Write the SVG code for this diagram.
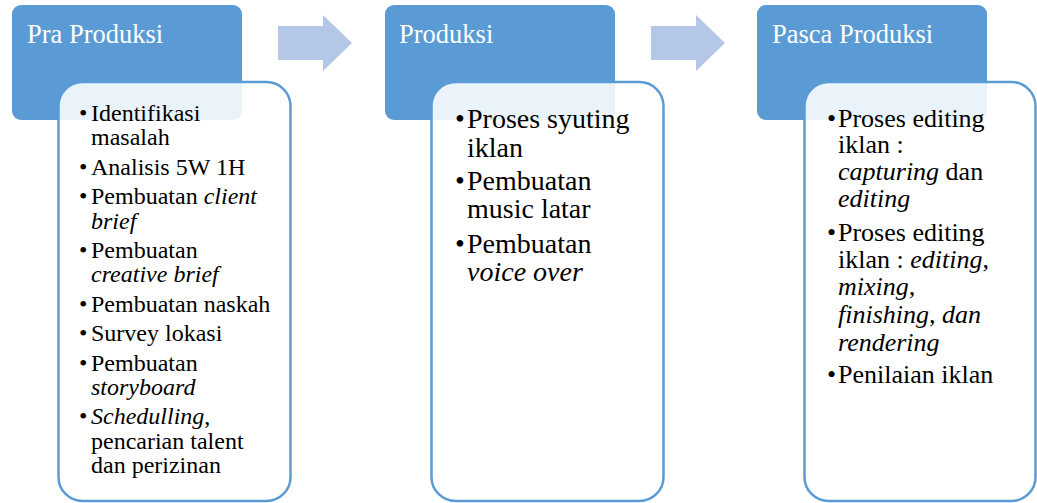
<svg xmlns="http://www.w3.org/2000/svg" width="1037" height="503" viewBox="0 0 1037 503">
<style>
text, tspan{font-family:"Liberation Serif","Times New Roman",serif}
.hdr{fill:#5B9BD5}
.card{fill:#FFFFFF;fill-opacity:0.88;stroke:#5B9BD5;stroke-width:2.5}
.arrow{fill:#B4C7E7}
.title{font-size:26.5px;fill:#FFFFFF}
.t text{fill:#000000}
.b1 text{font-size:24px}
.b2 text{font-size:28px}
.b3 text{font-size:26px}
.i{font-style:italic}
</style>
<rect width="1037" height="503" fill="#FFFFFF"/>
<g id="connectors">
<polygon class="arrow" points="278,26 323,26 323,15 352,43 323,71 323,60 278,60"/>
<polygon class="arrow" points="651,26 696,26 696,15 725,43 696,71 696,60 651,60"/>
</g>
<g id="node-pra">
<rect class="hdr" x="12" y="5" width="230" height="115" rx="9"/>
<text class="title" x="27" y="43">Pra Produksi</text>
<rect class="card" x="58.5" y="82" width="232" height="419" rx="24"/>
<g class="t b1">
<text x="79" y="121">•</text><text x="91" y="121">Identifikasi</text>
<text x="91" y="145.4">masalah</text>
<text x="79" y="174.8">•</text><text x="91" y="174.8">Analisis 5W 1H</text>
<text x="79" y="204.2">•</text><text x="91" y="204.2">Pembuatan <tspan class="i">client</tspan></text>
<text x="91" y="228.6" class="i">brief</text>
<text x="79" y="258">•</text><text x="91" y="258">Pembuatan</text>
<text x="91" y="282.4" class="i">creative brief</text>
<text x="79" y="311.8">•</text><text x="91" y="311.8">Pembuatan naskah</text>
<text x="79" y="341.2">•</text><text x="91" y="341.2">Survey lokasi</text>
<text x="79" y="370.6">•</text><text x="91" y="370.6">Pembuatan</text>
<text x="91" y="395" class="i">storyboard</text>
<text x="79" y="424.4">•</text><text x="91" y="424.4"><tspan class="i">Schedulling</tspan>,</text>
<text x="91" y="448.8">pencarian talent</text>
<text x="91" y="473.2">dan perizinan</text>
</g>
</g>
<g id="node-produksi">
<rect class="hdr" x="385" y="5" width="230" height="115" rx="9"/>
<text class="title" x="399" y="43">Produksi</text>
<rect class="card" x="431.5" y="82" width="232" height="419" rx="24"/>
<g class="t b2">
<text x="455" y="128.3">•</text><text x="467" y="128.3">Proses syuting</text>
<text x="467" y="156.6">iklan</text>
<text x="455" y="190">•</text><text x="467" y="190">Pembuatan</text>
<text x="467" y="218.3">music latar</text>
<text x="455" y="253">•</text><text x="467" y="253">Pembuatan</text>
<text x="467" y="280.5" class="i">voice over</text>
</g>
</g>
<g id="node-pasca">
<rect class="hdr" x="757" y="5" width="230" height="115" rx="9"/>
<text class="title" x="772" y="43">Pasca Produksi</text>
<rect class="card" x="804.5" y="82" width="231" height="419" rx="24"/>
<g class="t b3">
<text x="827" y="126.7">•</text><text x="838" y="126.7">Proses editing</text>
<text x="838" y="153.4">iklan :</text>
<text x="838" y="180"><tspan class="i">capturing</tspan> dan</text>
<text x="838" y="206.7" class="i">editing</text>
<text x="827" y="241">•</text><text x="838" y="241">Proses editing</text>
<text x="838" y="267.5">iklan : <tspan class="i">editing</tspan>,</text>
<text x="838" y="295" class="i">mixing,</text>
<text x="838" y="323.3" class="i">finishing, dan</text>
<text x="838" y="350.7" class="i">rendering</text>
<text x="827" y="382.7">•</text><text x="838" y="382.7">Penilaian iklan</text>
</g>
</g>
</svg>
